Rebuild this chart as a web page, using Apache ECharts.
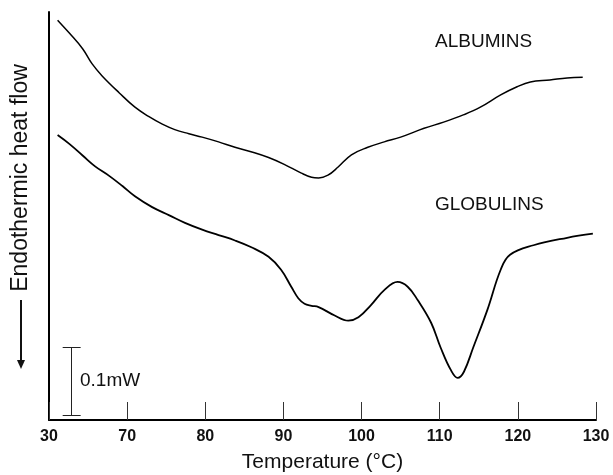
<!DOCTYPE html>
<html>
<head>
<meta charset="utf-8">
<script src="https://cdn.jsdelivr.net/npm/echarts@6/dist/echarts.min.js"></script>
<style>
  html, body { margin: 0; padding: 0; background: #fff; }
  #main { width: 613px; height: 475px; }
</style>
</head>
<body>
<div id="main"></div>
<script>
// temperature axis is broken: the first tick reads 30 but sits where 60 would be
var xTicks = [60, 70, 80, 90, 100, 110, 120, 130];
var xTickLabels = ["30", "70", "80", "90", "100", "110", "120", "130"];

// heat flow in mW (arbitrary offset)
var albuminsX = [61.1, 62.6, 64.3, 65.5, 66.8, 69.0, 71.0, 72.8, 74.5, 76.1, 77.9, 79.6, 81.7, 83.8, 86.3, 88.1, 90.1, 92.3, 93.6, 94.5, 95.7, 97.0, 98.7, 100.8, 102.9, 105.0, 108.0, 110.5, 113.1, 115.2, 117.8, 119.9, 121.6, 124.1, 126.3, 128.3];
var albuminsY = [0.588, 0.569, 0.546, 0.524, 0.506, 0.481, 0.460, 0.446, 0.435, 0.427, 0.421, 0.416, 0.409, 0.401, 0.393, 0.386, 0.376, 0.363, 0.357, 0.356, 0.360, 0.372, 0.390, 0.401, 0.409, 0.416, 0.429, 0.438, 0.449, 0.460, 0.478, 0.490, 0.497, 0.500, 0.503, 0.504];

var globulinsX = [61.1, 62.6, 64.3, 65.9, 67.7, 69.4, 71.0, 73.2, 75.4, 77.4, 79.6, 81.7, 83.8, 85.9, 88.1, 89.7, 91.0, 91.9, 92.7, 93.6, 94.5, 96.5, 98.3, 99.6, 101.2, 102.9, 104.6, 105.9, 107.2, 108.9, 110.1, 111.4, 112.3, 113.1, 114.3, 116.1, 117.8, 119.0, 122.0, 126.3, 129.6];
var globulinsY = [0.419, 0.406, 0.389, 0.373, 0.359, 0.344, 0.329, 0.313, 0.301, 0.290, 0.280, 0.272, 0.264, 0.254, 0.240, 0.221, 0.196, 0.179, 0.171, 0.168, 0.166, 0.154, 0.146, 0.151, 0.169, 0.191, 0.203, 0.196, 0.176, 0.143, 0.107, 0.074, 0.062, 0.071, 0.107, 0.162, 0.221, 0.243, 0.257, 0.268, 0.274];

// 0.1 mW scale bar
var scaleBarX = 62.9;
var scaleBarBottom = 0.007;
var scaleBarTop = 0.107;
var scaleCapHalf = 1.15;

function zip(xs, ys) {
  return xs.map(function (x, i) { return [x, ys[i]]; });
}

var chart = echarts.init(document.getElementById("main"));
var font = "Liberation Sans, Arial, sans-serif";

var option = {
  animation: false,
  backgroundColor: "#fff",
  grid: { left: 49, right: 17, top: 12, bottom: 55, outerBoundsMode: "none", containLabel: false },
  xAxis: {
    type: "value",
    min: 60,
    max: 130,
    interval: 10,
    name: "Temperature (°C)",
    nameLocation: "middle",
    nameGap: 32,
    nameTextStyle: { fontFamily: font, fontSize: 21, fontWeight: 500, color: "#111" },
    axisLine: { show: true, lineStyle: { color: "#000", width: 2 } },
    axisTick: {
      show: true,
      inside: true,
      length: 18,
      lineStyle: { color: "#333", width: 1 }
    },
    axisLabel: {
      margin: 9,
      fontFamily: font,
      fontSize: 16,
      fontWeight: "bold",
      color: "#111",
      formatter: function (v) {
        var i = xTicks.indexOf(v);
        return i >= 0 ? xTickLabels[i] : "";
      }
    },
    splitLine: { show: false }
  },
  yAxis: {
    type: "value",
    min: 0,
    max: 0.6,
    axisLine: { show: true, lineStyle: { color: "#000", width: 2 } },
    axisTick: { show: false },
    axisLabel: { show: false },
    splitLine: { show: false }
  },
  series: [
    {
      name: "Albumins",
      type: "line",
      data: zip(albuminsX, albuminsY),
      smooth: 0.4,
      symbol: "none",
      lineStyle: { color: "#000", width: 1.5 }
    },
    {
      name: "Globulins",
      type: "line",
      data: zip(globulinsX, globulinsY),
      smooth: 0.4,
      symbol: "none",
      lineStyle: { color: "#000", width: 1.8 }
    },
    {
      name: "scale",
      type: "lines",
      coordinateSystem: "cartesian2d",
      lineStyle: { color: "#222", width: 1, opacity: 1 },
      data: [
        { coords: [[scaleBarX, scaleBarBottom], [scaleBarX, scaleBarTop]] },
        { coords: [[scaleBarX - scaleCapHalf, scaleBarBottom], [scaleBarX + scaleCapHalf, scaleBarBottom]] },
        { coords: [[scaleBarX - scaleCapHalf, scaleBarTop], [scaleBarX + scaleCapHalf, scaleBarTop]] }
      ]
    }
  ],
  graphic: [
    {
      type: "text",
      x: 21, y: 178,
      rotation: Math.PI / 2,
      style: {
        text: "Endothermic heat flow",
        font: "500 23px " + font,
        fill: "#111",
        align: "center",
        verticalAlign: "middle"
      }
    },
    {
      type: "line",
      shape: { x1: 21, y1: 300, x2: 21, y2: 362 },
      style: { stroke: "#111", lineWidth: 2 }
    },
    {
      type: "polygon",
      shape: { points: [[17, 360], [25, 360], [21, 369]] },
      style: { fill: "#111" }
    },
    {
      type: "text",
      x: 80, y: 381,
      style: {
        text: "0.1mW",
        font: "500 19px " + font,
        fill: "#111",
        verticalAlign: "middle"
      }
    },
    {
      type: "text",
      x: 435, y: 42,
      style: { text: "ALBUMINS", font: "500 19px " + font, fill: "#111", verticalAlign: "middle" }
    },
    {
      type: "text",
      x: 435, y: 205,
      style: { text: "GLOBULINS", font: "500 19px " + font, fill: "#111", verticalAlign: "middle" }
    }
  ]
};

chart.setOption(option);
</script>
</body>
</html>
